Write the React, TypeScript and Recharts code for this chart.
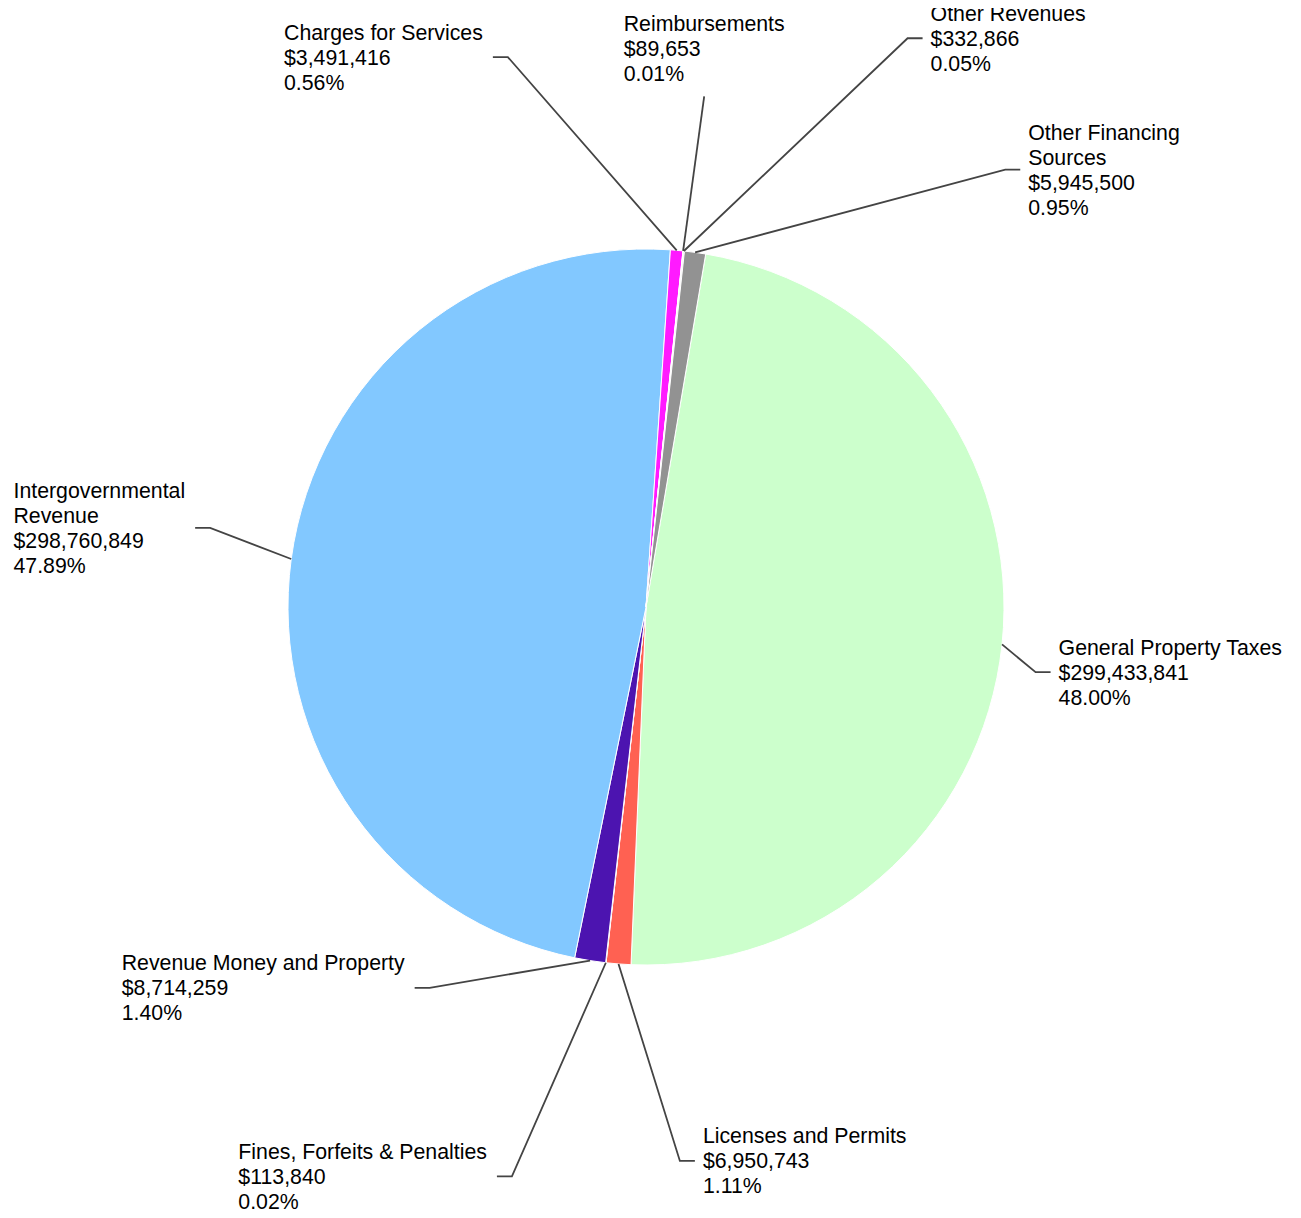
import React from "react";
import { PieChart, Pie, Cell } from "recharts";

// slices, clockwise from the top
const categories = [
  "General Property Taxes",
  "Licenses and Permits",
  "Fines, Forfeits & Penalties",
  "Revenue Money and Property",
  "Intergovernmental\nRevenue",
  "Charges for Services",
  "Reimbursements",
  "Other Revenues",
  "Other Financing\nSources",
];
const amounts = [
  299433841, 6950743, 113840, 8714259, 298760849, 3491416, 89653, 332866,
  5945500,
];
const COLORS = [
  "#CCFFCC",
  "#FF6152",
  "#FFE0A0",
  "#4C14B0",
  "#82C8FF",
  "#FF1AFF",
  "#FFFFCC",
  "#E8E8E8",
  "#929292",
];

// leader line elbow: distance from centre and clockwise angle from 12 o'clock
const labelRadius = [395, 555, 585, 438, 443, 567, 514, 626, 566];
const labelAngle = [99.5, 176.5, 193.25, 209.6, 280.3, 345.9, 6.5, 24.7, 39.4];
const labelSide = ["right", "right", "left", "left", "left", "left", "top", "right", "right"];

const FONT = "'Liberation Sans', Arial, sans-serif";
const FONT_SIZE = 21.3;
const LINE_H = 25;
const RAD = Math.PI / 180;

const chartData = categories.map((name, i) => ({ name, value: amounts[i] }));

let ctx: CanvasRenderingContext2D | null = null;
function textWidth(s: string) {
  if (!ctx) ctx = document.createElement("canvas").getContext("2d");
  if (!ctx) return s.length * FONT_SIZE * 0.5;
  ctx.font = `${FONT_SIZE}px ${FONT}`;
  return ctx.measureText(s).width;
}

function renderLabel(props: any) {
  const { cx, cy, midAngle, outerRadius, index, value, percent } = props;
  const sx = cx + outerRadius * Math.cos(-midAngle * RAD);
  const sy = cy + outerRadius * Math.sin(-midAngle * RAD);
  const r = labelRadius[index];
  const a = labelAngle[index] * RAD;
  const ex = cx + r * Math.sin(a);
  const ey = cy - r * Math.cos(a);
  const side = labelSide[index];

  const lines = [
    ...categories[index].split("\n"),
    "$" + value.toLocaleString("en-US"),
    (percent * 100).toFixed(2) + "%",
  ];
  const blockW = Math.max(...lines.map(textWidth));

  let points = `${sx},${sy} ${ex},${ey}`;
  let tx = 0;
  let firstY = 0;
  if (side === "right") {
    points += ` ${ex + 15},${ey}`;
    tx = ex + 23;
    firstY = ey - ((lines.length - 1) / 2) * LINE_H;
  } else if (side === "left") {
    points += ` ${ex - 15},${ey}`;
    tx = ex - 25 - blockW;
    firstY = ey - ((lines.length - 1) / 2) * LINE_H;
  } else {
    tx = ex - blockW / 2;
    firstY = ey - 23 - (lines.length - 1) * LINE_H;
  }

  return (
    <g key={`lbl-${index}`}>
      <polyline points={points} fill="none" stroke="#444" strokeWidth={1.8} />
      <text
        x={tx}
        y={firstY}
        fill="#000"
        fontFamily={FONT}
        fontSize={FONT_SIZE}
        textAnchor="start"
      >
        {lines.map((ln, i) => (
          <tspan key={i} x={tx} y={firstY + i * LINE_H + FONT_SIZE * 0.35}>
            {ln}
          </tspan>
        ))}
      </text>
    </g>
  );
}

export default function App() {
  return (
    <div style={{ width: 1301, height: 1218, margin: -8, background: "#fff" }}>
      <PieChart width={1301} height={1218} margin={{ top: 0, right: 0, bottom: 0, left: 0 }}>
        <Pie
          data={chartData}
          dataKey="value"
          nameKey="name"
          cx={646}
          cy={607}
          outerRadius={358}
          startAngle={80.4}
          endAngle={-279.6}
          stroke="#fff"
          strokeWidth={1}
          label={renderLabel}
          labelLine={false}
          isAnimationActive={false}
        >
          {chartData.map((d, i) => (
            <Cell key={d.name} fill={COLORS[i]} />
          ))}
        </Pie>
      </PieChart>
    </div>
  );
}
